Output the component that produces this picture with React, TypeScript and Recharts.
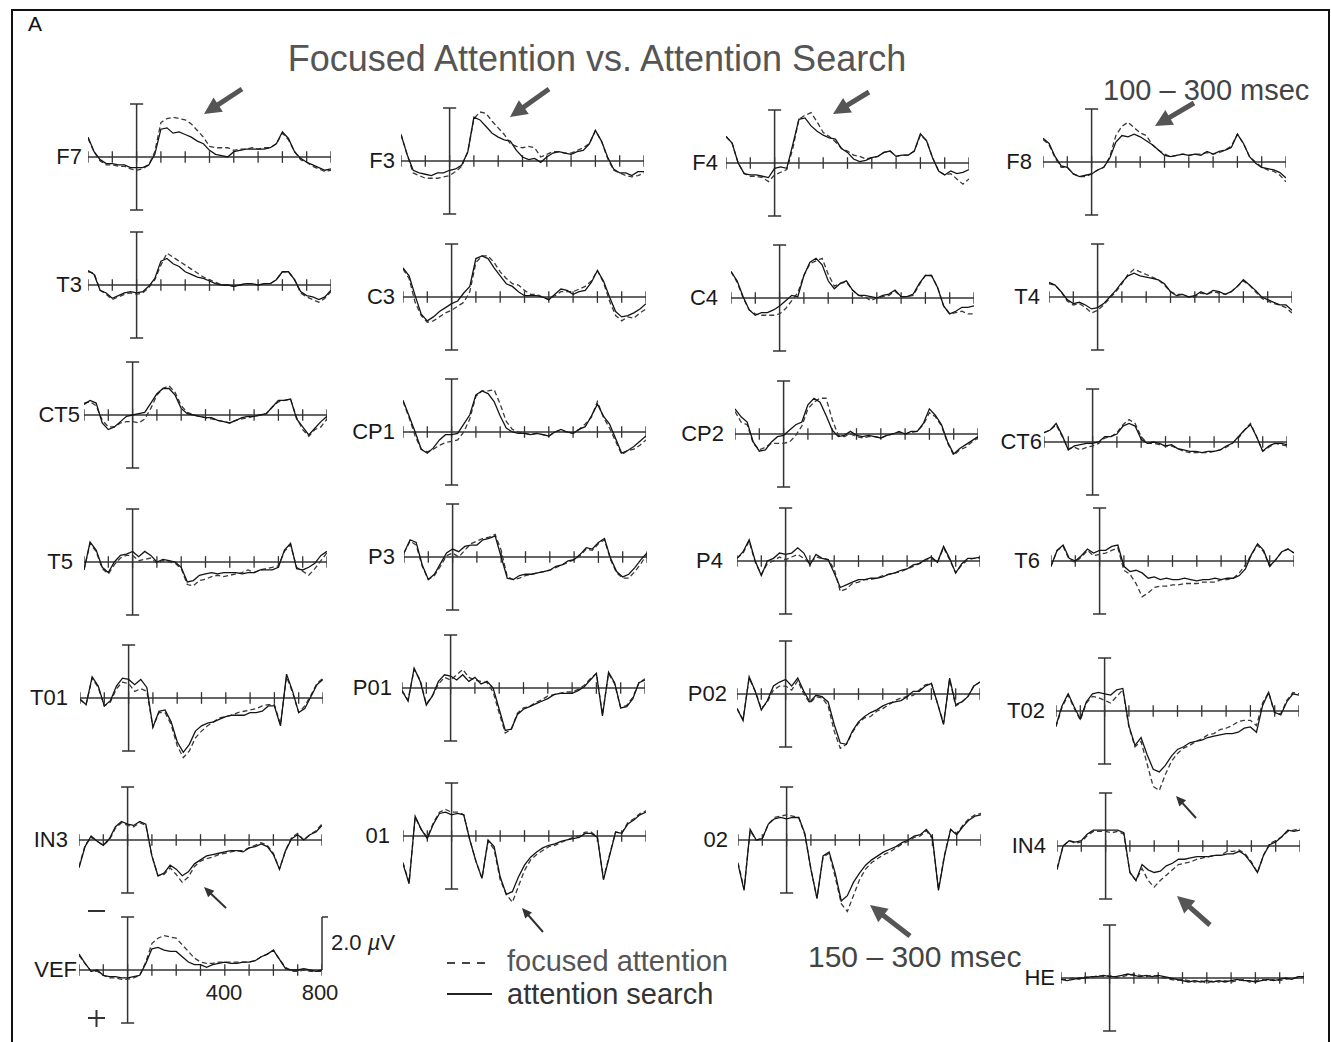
import { LineChart, Line, XAxis, YAxis, ReferenceLine } from "recharts";

// sample times (ms) and amplitudes (µV, negative plotted up)
const timesMs = [-200, -175, -150, -125, -100, -75, -50, -25, 0, 25, 50, 75, 100, 125, 150, 175, 200, 225, 250, 275, 300, 325, 350, 375, 400, 425, 450, 475, 500, 525, 550, 575, 600, 625, 650, 675, 700, 725, 750, 775, 800];
const axisTicks = [-200, -100, 0, 100, 200, 300, 400, 500, 600, 700, 800];

const f7Search = [-0.75, -0.2, 0.1, 0.25, 0.25, 0.3, 0.3, 0.4, 0.4, 0.4, 0.3, -0.1, -1.05, -1.1, -0.9, -0.95, -0.85, -0.75, -0.6, -0.5, -0.25, -0.1, -0.05, 0, -0.2, -0.25, -0.3, -0.3, -0.3, -0.3, -0.35, -0.5, -0.95, -0.7, -0.2, 0.05, 0.2, 0.3, 0.4, 0.5, 0.45];
const f7Focused = [-0.7, -0.2, 0.15, 0.3, 0.3, 0.35, 0.35, 0.45, 0.5, 0.45, 0.3, -0.2, -1.3, -1.45, -1.5, -1.45, -1.4, -1.25, -1.0, -0.75, -0.4, -0.35, -0.35, -0.35, -0.25, -0.3, -0.3, -0.35, -0.3, -0.35, -0.35, -0.5, -0.9, -0.65, -0.2, 0.1, 0.2, 0.35, 0.45, 0.55, 0.5];
const f3Search = [-1.0, -0.25, 0.35, 0.45, 0.5, 0.55, 0.45, 0.45, 0.35, 0.3, 0.15, -0.35, -1.65, -1.55, -1.3, -1.05, -0.9, -0.8, -0.75, -0.4, -0.15, -0.05, -0.1, 0.05, -0.15, -0.3, -0.35, -0.3, -0.25, -0.35, -0.4, -0.65, -1.15, -0.75, -0.15, 0.3, 0.45, 0.45, 0.55, 0.4, 0.4];
const f3Focused = [-1.0, -0.25, 0.45, 0.55, 0.65, 0.65, 0.65, 0.6, 0.55, 0.4, 0.2, -0.35, -1.6, -1.85, -1.8, -1.5, -1.25, -1.0, -0.65, -0.55, -0.5, -0.55, -0.5, -0.15, -0.25, -0.35, -0.35, -0.3, -0.3, -0.4, -0.5, -0.65, -1.15, -0.75, -0.1, 0.35, 0.45, 0.55, 0.6, 0.55, 0.45];
const f4Search = [-1.0, -0.75, 0, 0.4, 0.45, 0.45, 0.5, 0.55, 0.2, 0.15, 0.2, -0.7, -1.65, -1.7, -1.4, -1.2, -1.05, -0.95, -0.9, -0.55, -0.4, -0.15, -0.05, -0.1, -0.2, -0.25, -0.4, -0.45, -0.25, -0.3, -0.3, -0.45, -1.1, -0.85, -0.2, 0.3, 0.45, 0.3, 0.4, 0.35, 0.25];
const f4Focused = [-1.0, -0.75, 0, 0.4, 0.5, 0.5, 0.55, 0.7, 0.45, 0.35, 0.25, -0.55, -1.65, -1.8, -1.9, -1.55, -1.15, -1.0, -0.8, -0.55, -0.45, -0.3, -0.25, -0.15, -0.2, -0.25, -0.4, -0.45, -0.25, -0.3, -0.3, -0.45, -1.05, -0.85, -0.2, 0.3, 0.45, 0.4, 0.6, 0.8, 0.6];
const f8Search = [-0.9, -0.7, -0.2, 0.15, 0.2, 0.45, 0.55, 0.5, 0.45, 0.3, 0.2, -0.15, -0.75, -1.0, -0.95, -1.05, -0.95, -0.8, -0.65, -0.45, -0.25, -0.2, -0.25, -0.3, -0.25, -0.3, -0.25, -0.4, -0.3, -0.4, -0.45, -0.55, -1.05, -0.7, -0.2, 0.05, 0.2, 0.25, 0.3, 0.4, 0.6];
const f8Focused = [-0.85, -0.65, -0.15, 0.2, 0.2, 0.45, 0.55, 0.55, 0.45, 0.3, 0.2, -0.2, -1.0, -1.35, -1.5, -1.3, -1.1, -1.0, -0.65, -0.45, -0.3, -0.2, -0.25, -0.3, -0.25, -0.3, -0.3, -0.35, -0.3, -0.35, -0.45, -0.6, -1.05, -0.7, -0.2, 0.0, 0.2, 0.3, 0.35, 0.5, 0.75];

const t3Search = [-0.55, -0.4, 0.2, 0.3, 0.5, 0.4, 0.3, 0.25, 0.3, 0.25, 0.05, -0.25, -0.9, -1.0, -0.8, -0.7, -0.5, -0.4, -0.3, -0.25, -0.15, -0.05, 0, 0, 0.05, 0, -0.05, -0.05, 0, -0.05, -0.05, -0.2, -0.5, -0.5, -0.2, 0.25, 0.4, 0.45, 0.55, 0.45, 0.2];
const t3Focused = [-0.5, -0.45, 0.2, 0.35, 0.55, 0.45, 0.35, 0.3, 0.35, 0.3, 0.1, -0.2, -0.75, -1.2, -1.05, -0.9, -0.75, -0.6, -0.45, -0.3, -0.2, -0.1, 0, 0, 0.05, 0, -0.05, -0.05, 0, -0.05, -0.05, -0.2, -0.5, -0.5, -0.2, 0.3, 0.45, 0.55, 0.65, 0.5, 0.25];
const c3Search = [-1.1, -0.8, -0.05, 0.65, 0.9, 0.75, 0.55, 0.4, 0.25, 0.15, -0.15, -0.4, -1.45, -1.55, -1.45, -1.1, -0.8, -0.5, -0.4, -0.2, -0.05, -0.05, -0.05, 0, 0.1, -0.1, -0.3, -0.25, -0.1, -0.2, -0.25, -0.55, -1.0, -0.6, 0, 0.55, 0.75, 0.7, 0.6, 0.45, 0.25];
const c3Focused = [-1.05, -0.7, 0.2, 0.7, 0.95, 0.9, 0.75, 0.6, 0.5, 0.35, 0.2, -0.2, -1.3, -1.55, -1.55, -1.3, -0.95, -0.7, -0.5, -0.45, -0.25, -0.1, -0.1, 0, 0.1, -0.05, -0.2, -0.2, -0.2, -0.3, -0.4, -0.6, -1.0, -0.55, 0.15, 0.7, 0.9, 0.75, 0.8, 0.6, 0.45];
const c4Search = [-1.0, -0.65, -0.05, 0.45, 0.65, 0.55, 0.55, 0.45, 0.3, 0.1, -0.1, -0.05, -0.85, -1.35, -1.5, -1.25, -0.65, -0.35, -0.55, -0.65, -0.3, -0.1, -0.1, -0.05, 0, -0.1, -0.15, -0.3, -0.05, -0.05, -0.15, -0.55, -0.85, -0.85, -0.4, 0.3, 0.6, 0.5, 0.35, 0.35, 0.3];
const c4Focused = [-1.0, -0.6, 0.0, 0.45, 0.6, 0.65, 0.65, 0.65, 0.6, 0.4, 0.1, -0.2, -0.85, -1.3, -1.4, -1.5, -0.9, -0.45, -0.55, -0.6, -0.3, -0.1, -0.05, 0.1, 0, -0.05, -0.1, -0.25, -0.05, -0.05, -0.1, -0.5, -0.85, -0.85, -0.4, 0.3, 0.6, 0.55, 0.5, 0.6, 0.6];
const t4Search = [-0.55, -0.45, -0.2, 0.1, 0.25, 0.2, 0.3, 0.45, 0.4, 0.25, 0, -0.25, -0.55, -0.8, -0.9, -0.8, -0.75, -0.7, -0.65, -0.5, -0.2, -0.05, -0.1, 0, -0.05, -0.2, -0.1, -0.25, -0.2, -0.1, -0.2, -0.4, -0.65, -0.45, -0.25, 0, 0.1, 0.2, 0.3, 0.3, 0.5];
const t4Focused = [-0.5, -0.45, -0.2, 0.15, 0.3, 0.25, 0.4, 0.6, 0.5, 0.3, 0.05, -0.2, -0.5, -0.85, -1.05, -0.95, -0.85, -0.75, -0.65, -0.45, -0.2, -0.1, -0.1, 0, 0, -0.15, -0.1, -0.2, -0.15, -0.1, -0.2, -0.4, -0.6, -0.45, -0.2, 0.05, 0.15, 0.25, 0.3, 0.4, 0.6];

const ct5Search = [-0.4, -0.55, -0.45, 0.3, 0.55, 0.45, 0.25, 0.05, 0, -0.05, -0.1, -0.45, -0.8, -1.0, -1.0, -0.75, -0.25, -0.05, 0, 0.05, 0.1, 0.1, 0.2, 0.25, 0.3, 0.2, 0.1, 0.05, 0.05, 0, -0.05, -0.3, -0.55, -0.55, -0.6, 0.15, 0.45, 0.75, 0.5, 0.25, 0.05];
const ct5Focused = [-0.45, -0.5, -0.35, 0.2, 0.45, 0.45, 0.3, 0.25, 0.25, 0.3, 0.15, -0.25, -0.75, -1.0, -1.1, -0.85, -0.35, -0.1, 0, 0.05, 0.1, 0.15, 0.2, 0.25, 0.3, 0.2, 0.15, 0.1, 0.05, 0, -0.05, -0.3, -0.5, -0.55, -0.6, 0.1, 0.55, 0.8, 0.55, 0.45, 0.15];
const cp1Search = [-1.2, -0.6, 0, 0.65, 0.8, 0.6, 0.3, 0.1, 0.1, 0.05, -0.3, -0.65, -1.4, -1.55, -1.45, -1.15, -0.6, -0.15, 0, 0.05, 0.05, 0.1, 0.05, 0.1, 0.15, 0, -0.1, 0, 0.05, -0.1, -0.2, -0.6, -1.05, -0.6, -0.3, 0.25, 0.8, 0.7, 0.55, 0.35, 0.15];
const cp1Focused = [-1.15, -0.55, 0.15, 0.65, 0.75, 0.65, 0.5, 0.4, 0.35, 0.3, 0, -0.5, -1.35, -1.55, -1.55, -1.6, -1.05, -0.4, -0.1, 0, 0.05, 0.1, 0.05, 0.1, 0.15, 0, -0.05, 0, 0.05, -0.1, -0.3, -0.55, -1.15, -0.55, -0.15, 0.35, 0.85, 0.7, 0.65, 0.5, 0.3];
const cp2Search = [-0.95, -0.65, -0.45, 0.3, 0.65, 0.6, 0.3, 0.1, 0.05, -0.15, -0.35, -0.45, -1.1, -1.35, -1.2, -0.7, -0.15, 0.1, 0.05, -0.1, 0.05, 0.1, 0.05, 0.1, 0.15, 0.05, 0, -0.1, 0, -0.1, -0.1, -0.4, -0.95, -0.7, -0.35, 0.3, 0.75, 0.55, 0.4, 0.25, 0.1];
const cp2Focused = [-0.85, -0.45, -0.35, 0.35, 0.6, 0.5, 0.35, 0.35, 0.35, 0.3, 0.05, -0.3, -0.95, -1.2, -1.35, -1.35, -0.55, 0.05, 0.1, 0, 0.1, 0.15, 0.1, 0.1, 0.15, 0.05, 0, -0.05, 0, -0.05, -0.1, -0.35, -0.8, -0.65, -0.3, 0.35, 0.8, 0.6, 0.5, 0.3, 0.15];
const ct6Search = [-0.35, -0.45, -0.7, -0.25, 0.3, 0.15, 0.1, 0.05, 0.05, 0, -0.2, -0.2, -0.3, -0.6, -0.7, -0.6, -0.1, 0.05, 0, 0.05, 0.15, 0.1, 0.25, 0.3, 0.35, 0.35, 0.4, 0.35, 0.35, 0.3, 0.15, 0.05, -0.2, -0.45, -0.65, -0.2, 0.35, 0.15, 0.05, 0.05, 0.1];
const ct6Focused = [-0.35, -0.45, -0.65, -0.2, 0.25, 0.2, 0.3, 0.2, 0.15, 0.05, -0.15, -0.2, -0.35, -0.65, -0.85, -0.7, -0.2, 0.05, 0.05, 0.1, 0.15, 0.15, 0.25, 0.35, 0.4, 0.4, 0.4, 0.4, 0.35, 0.3, 0.2, 0.05, -0.15, -0.45, -0.7, -0.2, 0.35, 0.2, 0.05, 0.1, 0.15];

const t5Search = [0.3, -0.75, -0.45, 0.2, 0.4, 0, -0.25, -0.3, -0.4, -0.2, -0.4, -0.25, 0, -0.1, -0.05, 0, 0.2, 0.75, 0.7, 0.5, 0.45, 0.4, 0.45, 0.4, 0.4, 0.4, 0.45, 0.4, 0.4, 0.3, 0.3, 0.3, 0.2, -0.45, -0.7, 0.25, 0.3, 0.2, 0.05, -0.25, -0.4];
const t5Focused = [0.3, -0.7, -0.4, 0.25, 0.45, 0.1, -0.15, -0.25, -0.25, -0.05, -0.1, -0.15, 0.05, -0.05, 0, 0.05, 0.25, 0.85, 0.9, 0.7, 0.65, 0.55, 0.5, 0.55, 0.5, 0.45, 0.4, 0.3, 0.4, 0.3, 0.25, 0.2, 0.15, -0.4, -0.65, 0.2, 0.35, 0.5, 0.25, -0.05, -0.35];
const p3Search = [-0.15, -0.65, -0.55, 0.3, 0.85, 0.65, 0.25, -0.15, -0.3, -0.2, -0.4, -0.45, -0.45, -0.65, -0.7, -0.8, 0, 0.8, 0.85, 0.7, 0.65, 0.65, 0.6, 0.55, 0.5, 0.35, 0.3, 0.15, 0.1, -0.1, -0.35, -0.3, -0.55, -0.7, 0.05, 0.55, 0.75, 0.65, 0.4, 0.1, -0.15];
const p3Focused = [-0.15, -0.6, -0.45, 0.35, 0.85, 0.7, 0.35, -0.05, -0.15, 0, -0.25, -0.5, -0.6, -0.7, -0.75, -0.85, -0.25, 0.75, 0.85, 0.8, 0.7, 0.65, 0.6, 0.55, 0.5, 0.4, 0.3, 0.2, 0.1, -0.05, -0.3, -0.25, -0.5, -0.65, 0.1, 0.6, 0.8, 0.8, 0.55, 0.25, -0.1];
const p4Search = [-0.1, -0.35, -0.8, 0, 0.55, 0, -0.1, -0.3, -0.25, -0.3, -0.5, -0.3, 0.15, -0.25, -0.1, -0.05, 0.45, 1.0, 0.9, 0.8, 0.7, 0.7, 0.65, 0.65, 0.6, 0.5, 0.45, 0.35, 0.3, 0.15, 0.1, -0.05, -0.15, 0.05, -0.55, -0.1, 0.45, 0.1, -0.1, -0.1, -0.15];
const p4Focused = [-0.1, -0.3, -0.75, 0.05, 0.5, 0.1, 0, -0.15, -0.05, -0.15, -0.25, -0.1, 0.1, -0.15, -0.1, -0.05, 0.3, 1.15, 1.05, 0.85, 0.8, 0.7, 0.7, 0.65, 0.55, 0.5, 0.45, 0.4, 0.3, 0.2, 0.1, 0, -0.1, 0.05, -0.5, -0.05, 0.45, 0.15, -0.05, -0.1, -0.1];
const t6Search = [0.2, -0.4, -0.6, -0.1, 0, -0.2, -0.45, -0.3, -0.4, -0.4, -0.55, -0.6, 0.2, 0.4, 0.35, 0.45, 0.65, 0.6, 0.7, 0.65, 0.7, 0.7, 0.65, 0.7, 0.75, 0.7, 0.7, 0.65, 0.7, 0.65, 0.65, 0.55, 0.3, -0.25, -0.65, -0.4, 0.2, -0.05, -0.35, -0.45, -0.3];
const t6Focused = [0.2, -0.4, -0.55, -0.05, 0.05, -0.15, -0.4, -0.2, -0.25, -0.3, -0.4, -0.5, 0.35, 0.5, 0.85, 1.35, 1.2, 1.0, 0.95, 0.95, 0.9, 0.9, 0.85, 0.85, 0.85, 0.8, 0.8, 0.8, 0.7, 0.7, 0.65, 0.45, 0.15, -0.25, -0.6, -0.35, 0.2, -0.05, -0.35, -0.45, -0.3];

const t01Search = [0.05, 0.25, -0.8, -0.45, 0.3, 0.1, -0.45, -0.75, -0.7, -0.5, -0.7, -0.4, 1.1, 0.5, 0.45, 0.9, 1.65, 2.05, 1.75, 1.25, 1.05, 0.95, 0.9, 0.8, 0.7, 0.65, 0.65, 0.65, 0.55, 0.55, 0.5, 0.3, 0.3, 1.05, -0.9, -0.25, 0.55, 0.4, -0.05, -0.5, -0.7];
const t01Focused = [0.05, 0.25, -0.75, -0.4, 0.3, 0.15, -0.35, -0.6, -0.55, -0.25, -0.35, -0.25, 1.1, 0.55, 0.55, 1.0, 1.8, 2.25, 2.0, 1.5, 1.25, 1.05, 0.9, 0.75, 0.7, 0.65, 0.55, 0.5, 0.45, 0.4, 0.3, 0.25, 0.25, 1.0, -0.8, -0.2, 0.55, 0.3, -0.1, -0.55, -0.75];
const p01Search = [0.1, 0.5, -0.75, -0.25, 0.65, 0.3, -0.25, -0.5, -0.45, -0.3, -0.5, -0.25, -0.4, -0.15, -0.25, 0, 0.8, 1.6, 1.55, 1.0, 0.8, 0.7, 0.6, 0.5, 0.4, 0.25, 0.2, 0.2, 0.2, 0.1, -0.05, -0.3, -0.55, 1.05, -0.6, -0.2, 0.75, 0.7, 0.4, -0.2, -0.3];
const p01Focused = [0.1, 0.45, -0.7, -0.3, 0.6, 0.3, -0.15, -0.4, -0.3, -0.5, -0.7, -0.4, -0.3, -0.25, -0.2, 0.15, 0.95, 1.7, 1.55, 0.95, 0.75, 0.7, 0.55, 0.45, 0.3, 0.25, 0.2, 0.15, 0.15, 0.05, -0.1, -0.35, -0.55, 1.0, -0.55, -0.15, 0.75, 0.65, 0.35, -0.2, -0.35];
const p02Search = [0.55, 1.0, -0.65, -0.1, 0.6, 0.25, -0.3, -0.45, -0.55, -0.3, -0.6, -0.1, 0.3, 0.05, 0.1, 0.3, 1.15, 1.85, 1.9, 1.4, 1.05, 0.85, 0.7, 0.6, 0.45, 0.35, 0.3, 0.25, 0.1, -0.1, -0.1, -0.3, -0.4, 0.35, 1.15, -0.6, 0.4, 0.3, 0.1, -0.3, -0.45];
const p02Focused = [0.55, 0.95, -0.6, -0.1, 0.55, 0.3, -0.15, -0.3, -0.3, -0.15, -0.5, 0, 0.35, 0.1, 0.15, 0.45, 1.4, 2.05, 1.9, 1.45, 1.1, 0.9, 0.85, 0.65, 0.55, 0.4, 0.25, 0.15, 0.1, 0.05, -0.15, -0.35, -0.4, 0.35, 1.1, -0.55, 0.45, 0.3, 0.1, -0.3, -0.45];
const t02Search = [0.55, -0.2, -0.65, -0.15, 0.3, -0.35, -0.65, -0.7, -0.65, -0.6, -0.8, -0.85, 0.55, 1.3, 1.0, 1.65, 2.2, 2.3, 2.05, 1.7, 1.45, 1.35, 1.2, 1.15, 1.1, 1.0, 0.95, 0.9, 0.85, 0.85, 0.8, 0.65, 0.6, 0.8, -0.2, -0.7, 0.05, 0.15, -0.35, -0.65, -0.6];
const t02Focused = [0.6, -0.15, -0.6, -0.1, 0.35, -0.3, -0.55, -0.5, -0.4, -0.3, -0.55, -0.8, 0.6, 1.35, 1.15, 2.0, 2.85, 3.0, 2.4, 1.9, 1.6, 1.4, 1.3, 1.15, 1.05, 0.9, 0.85, 0.7, 0.65, 0.55, 0.4, 0.35, 0.35, 0.55, -0.3, -0.7, 0.1, 0.1, -0.4, -0.7, -0.65];

const in3Search = [1.05, 0.25, -0.15, 0.05, 0.2, -0.05, -0.5, -0.7, -0.6, -0.55, -0.7, -0.6, 0.6, 1.35, 1.25, 0.95, 1.1, 1.35, 1.2, 0.9, 0.75, 0.6, 0.55, 0.5, 0.45, 0.4, 0.4, 0.45, 0.3, 0.25, 0.15, 0.25, 0.55, 1.1, 0.4, -0.05, -0.2, 0, -0.2, -0.3, -0.55];
const in3Focused = [1.0, 0.2, -0.1, 0.05, 0.2, 0, -0.45, -0.65, -0.55, -0.5, -0.65, -0.55, 0.6, 1.35, 1.3, 1.05, 1.3, 1.6, 1.4, 1.0, 0.8, 0.7, 0.65, 0.55, 0.5, 0.45, 0.4, 0.4, 0.3, 0.2, 0.1, 0.2, 0.5, 1.1, 0.4, -0.1, -0.25, 0, -0.2, -0.35, -0.6];
const o1Search = [1.05, 1.8, -0.75, -0.25, 0.1, -0.45, -0.85, -0.9, -0.8, -0.85, -0.8, 0.15, 0.95, 1.6, 0.15, 0.4, 1.55, 2.2, 2.1, 1.55, 1.1, 0.8, 0.6, 0.45, 0.35, 0.3, 0.2, 0.15, 0.1, 0.05, -0.1, -0.1, 0.05, 1.65, 0.75, -0.15, -0.1, -0.45, -0.6, -0.8, -0.9];
const o1Focused = [1.0, 1.75, -0.7, -0.25, 0.05, -0.5, -0.9, -1.0, -0.9, -0.9, -0.8, 0.15, 0.95, 1.6, 0.2, 0.5, 1.65, 2.2, 2.5, 1.9, 1.3, 0.9, 0.7, 0.55, 0.4, 0.35, 0.25, 0.15, 0.05, 0, -0.15, -0.15, 0.05, 1.6, 0.7, -0.15, -0.1, -0.5, -0.65, -0.85, -0.95];
const o2Search = [0.9, 1.9, -0.4, 0, -0.05, -0.6, -0.8, -0.85, -0.8, -0.85, -0.85, -0.25, 1.1, 2.2, 0.6, 0.45, 1.25, 2.3, 2.1, 1.6, 1.25, 0.95, 0.75, 0.6, 0.45, 0.35, 0.25, 0.1, 0, -0.15, -0.2, -0.4, -0.1, 1.9, 0.6, -0.4, -0.2, -0.5, -0.75, -0.9, -0.95];
const o2Focused = [0.85, 1.85, -0.35, 0, -0.05, -0.6, -0.85, -0.9, -0.95, -0.9, -0.85, -0.2, 1.1, 2.2, 0.65, 0.5, 1.4, 2.4, 2.7, 2.1, 1.5, 1.1, 0.85, 0.7, 0.55, 0.45, 0.3, 0.15, 0.05, -0.1, -0.15, -0.35, -0.05, 1.85, 0.55, -0.4, -0.25, -0.55, -0.8, -0.95, -1.0];
const in4Search = [0.9, 0, -0.2, -0.15, -0.2, -0.45, -0.6, -0.6, -0.6, -0.6, -0.6, -0.5, 1.0, 1.3, 0.7, 0.9, 1.0, 0.95, 0.75, 0.65, 0.5, 0.5, 0.45, 0.4, 0.4, 0.4, 0.35, 0.35, 0.3, 0.3, 0.2, 0.35, 0.65, 1.0, 0.35, -0.05, -0.15, -0.35, -0.6, -0.55, -0.6];
const in4Focused = [0.85, 0, -0.2, -0.1, -0.15, -0.4, -0.55, -0.55, -0.55, -0.5, -0.55, -0.45, 1.0, 1.3, 0.85, 1.3, 1.55, 1.3, 1.1, 0.9, 0.7, 0.65, 0.6, 0.5, 0.45, 0.4, 0.35, 0.35, 0.2, 0.2, 0.15, 0.3, 0.6, 1.0, 0.35, -0.1, -0.2, -0.35, -0.55, -0.6, -0.65];

const vefSearch = [-0.6, -0.25, 0.05, 0, 0.2, 0.25, 0.25, 0.3, 0.3, 0.25, 0.2, -0.25, -0.8, -0.85, -0.75, -0.7, -0.7, -0.5, -0.3, -0.2, -0.2, -0.1, -0.2, -0.25, -0.3, -0.25, -0.25, -0.3, -0.3, -0.35, -0.5, -0.6, -0.75, -0.4, -0.05, 0, 0, -0.05, 0, 0.05, 0];
const vefFocused = [-0.55, -0.25, 0.05, 0.05, 0.2, 0.3, 0.3, 0.35, 0.35, 0.3, 0.2, -0.3, -1.0, -1.2, -1.3, -1.25, -1.2, -0.95, -0.7, -0.45, -0.3, -0.25, -0.25, -0.3, -0.3, -0.3, -0.3, -0.3, -0.3, -0.35, -0.5, -0.6, -0.75, -0.4, -0.1, 0.05, 0.05, 0, 0.05, 0.05, 0.05];
const heSearch = [0.05, 0.1, 0.05, 0, 0, -0.05, -0.05, -0.1, -0.05, -0.05, -0.1, -0.15, -0.1, -0.05, -0.1, -0.05, -0.1, -0.05, 0, 0.05, 0.1, 0.15, 0.1, 0.15, 0.1, 0.15, 0.1, 0.15, 0.1, 0.05, 0.1, 0.1, 0.15, 0.1, 0.05, 0.1, 0.05, 0, 0.05, -0.05, -0.05];
const heFocused = [0.05, 0.05, 0, 0.05, -0.05, 0, -0.1, -0.05, -0.1, 0, -0.05, -0.1, -0.15, -0.1, -0.05, -0.1, -0.05, 0, 0.05, 0.1, 0.05, 0.1, 0.15, 0.1, 0.2, 0.1, 0.15, 0.1, 0.15, 0.1, 0.05, 0.15, 0.1, 0.05, 0.1, 0.05, 0.1, 0.05, 0, 0, -0.05];

// layout: left = x of the -200 ms end of the axis, base = y of the 0 µV line
const panels = [
  { name: "F7", search: f7Search, focused: f7Focused, left: 88, base: 157, gap: 6 },
  { name: "F3", search: f3Search, focused: f3Focused, left: 401, base: 161, gap: 6 },
  { name: "F4", search: f4Search, focused: f4Focused, left: 726, base: 163, gap: 8 },
  { name: "F8", search: f8Search, focused: f8Focused, left: 1043, base: 162, gap: 11 },
  { name: "T3", search: t3Search, focused: t3Focused, left: 88, base: 285, gap: 6 },
  { name: "C3", search: c3Search, focused: c3Focused, left: 403, base: 297, gap: 8 },
  { name: "C4", search: c4Search, focused: c4Focused, left: 731, base: 298, gap: 13 },
  { name: "T4", search: t4Search, focused: t4Focused, left: 1049, base: 297, gap: 9 },
  { name: "CT5", search: ct5Search, focused: ct5Focused, left: 84, base: 415, gap: 4 },
  { name: "CP1", search: cp1Search, focused: cp1Focused, left: 403, base: 432, gap: 8 },
  { name: "CP2", search: cp2Search, focused: cp2Focused, left: 735, base: 434, gap: 11 },
  { name: "CT6", search: ct6Search, focused: ct6Focused, left: 1044, base: 442, gap: 2 },
  { name: "T5", search: t5Search, focused: t5Focused, left: 84, base: 562, gap: 11 },
  { name: "P3", search: p3Search, focused: p3Focused, left: 404, base: 557, gap: 9 },
  { name: "P4", search: p4Search, focused: p4Focused, left: 737, base: 561, gap: 14 },
  { name: "T6", search: t6Search, focused: t6Focused, left: 1051, base: 561, gap: 11 },
  { name: "T01", search: t01Search, focused: t01Focused, left: 80, base: 698, gap: 12 },
  { name: "P01", search: p01Search, focused: p01Focused, left: 402, base: 688, gap: 10 },
  { name: "P02", search: p02Search, focused: p02Focused, left: 737, base: 694, gap: 10 },
  { name: "T02", search: t02Search, focused: t02Focused, left: 1056, base: 711, gap: 11 },
  { name: "IN3", search: in3Search, focused: in3Focused, left: 79, base: 840, gap: 11 },
  { name: "01", search: o1Search, focused: o1Focused, left: 403, base: 836, gap: 13 },
  { name: "02", search: o2Search, focused: o2Focused, left: 738, base: 840, gap: 10 },
  { name: "IN4", search: in4Search, focused: in4Focused, left: 1057, base: 846, gap: 11 },
  { name: "VEF", search: vefSearch, focused: vefFocused, left: 79, base: 970, gap: 2 },
  { name: "HE", search: heSearch, focused: heFocused, left: 1061, base: 978, gap: 6 },
];

const W = 243; // 1000 ms
const H = 212; // 8 µV at 26.5 px/µV
const FONT = '"Liberation Sans", Arial, Helvetica, sans-serif';
const AXIS = "#333";

function Panel({ p }: { p: any }) {
  const rows = timesMs.map((t, i) => ({ t, search: p.search[i], focused: p.focused[i] }));
  return (
    <>
      <div
        style={{
          position: "absolute",
          left: p.left - p.gap - 100,
          top: p.base - 13,
          width: 100,
          lineHeight: "26px",
          textAlign: "right",
          fontSize: 22,
          color: "#1a1a1a",
          fontFamily: FONT,
        }}
      >
        {p.name}
      </div>
      <div style={{ position: "absolute", left: p.left, top: p.base - H / 2 }}>
        <LineChart width={W} height={H} data={rows} margin={{ top: 0, right: 0, bottom: 0, left: 0 }}>
          <XAxis type="number" dataKey="t" domain={[-200, 800]} hide />
          <YAxis type="number" domain={[-4, 4]} reversed hide />
          <ReferenceLine y={0} stroke={AXIS} strokeWidth={1.5} />
          {axisTicks.map((t) => (
            <ReferenceLine key={t} segment={[{ x: t, y: -0.22 }, { x: t, y: 0.22 }]} stroke={AXIS} strokeWidth={1.3} />
          ))}
          <ReferenceLine segment={[{ x: 0, y: -2 }, { x: 0, y: 2 }]} stroke={AXIS} strokeWidth={1.5} />
          <ReferenceLine segment={[{ x: -27, y: -2 }, { x: 27, y: -2 }]} stroke={AXIS} strokeWidth={1.5} />
          <ReferenceLine segment={[{ x: -27, y: 2 }, { x: 27, y: 2 }]} stroke={AXIS} strokeWidth={1.5} />
          <Line
            type="linear"
            dataKey="focused"
            stroke="#3a3a3a"
            strokeWidth={1.3}
            strokeDasharray="5 3"
            dot={false}
            isAnimationActive={false}
          />
          <Line type="linear" dataKey="search" stroke="#151515" strokeWidth={1.3} dot={false} isAnimationActive={false} />
        </LineChart>
      </div>
    </>
  );
}

function arrow(x1: number, y1: number, x2: number, y2: number, sw: number, hl: number, hw: number) {
  const dx = x2 - x1;
  const dy = y2 - y1;
  const L = Math.hypot(dx, dy);
  const ux = dx / L;
  const uy = dy / L;
  const px = -uy;
  const py = ux;
  const bx = x2 - ux * hl;
  const by = y2 - uy * hl;
  const pts = [
    [x1 + (px * sw) / 2, y1 + (py * sw) / 2],
    [bx + (px * sw) / 2, by + (py * sw) / 2],
    [bx + (px * hw) / 2, by + (py * hw) / 2],
    [x2, y2],
    [bx - (px * hw) / 2, by - (py * hw) / 2],
    [bx - (px * sw) / 2, by - (py * sw) / 2],
    [x1 - (px * sw) / 2, y1 - (py * sw) / 2],
  ];
  return pts.map((q) => q.join(",")).join(" ");
}

const bigArrows = [
  [242, 89, 204, 114],
  [549, 89, 510, 117],
  [869, 92, 833, 114],
  [1194, 103, 1155, 126],
  [910, 936, 870, 905],
  [1210, 925, 1177, 896],
];
const thinArrows = [
  [1196, 818, 1176, 796],
  [226, 908, 204, 887],
  [543, 932, 522, 908],
];

export default function App() {
  return (
    <div
      style={{
        position: "fixed",
        left: 0,
        top: 0,
        width: 1331,
        height: 1042,
        overflow: "hidden",
        background: "#fff",
        fontFamily: FONT,
      }}
    >
      {panels.map((p) => (
        <Panel key={p.name} p={p} />
      ))}
      <svg
        width={1331}
        height={1042}
        style={{ position: "absolute", left: 0, top: 0, pointerEvents: "none" }}
        fontFamily={FONT}
      >
        <path d="M12,1050 V10 H1329 V1050" fill="none" stroke="#111" strokeWidth={2} />
        <text x={28} y={31} fontSize={21} fill="#111">A</text>
        <text x={597} y={71} fontSize={36} fill="#555" textAnchor="middle">
          Focused Attention vs. Attention Search
        </text>
        <text x={1103} y={100} fontSize={29} fill="#444">100 – 300 msec</text>
        <text x={808} y={967} fontSize={30} fill="#444">150 – 300 msec</text>
        {bigArrows.map((a, i) => (
          <polygon key={"b" + i} points={arrow(a[0], a[1], a[2], a[3], 5, 17, 17)} fill="#555" />
        ))}
        {thinArrows.map((a, i) => (
          <polygon key={"t" + i} points={arrow(a[0], a[1], a[2], a[3], 2, 10, 9)} fill="#333" />
        ))}
        {/* polarity signs and calibration bar */}
        <line x1={88} y1={911} x2={105} y2={911} stroke="#333" strokeWidth={2} />
        <line x1={88} y1={1018} x2={105} y2={1018} stroke="#333" strokeWidth={2} />
        <line x1={96.5} y1={1010} x2={96.5} y2={1027} stroke="#333" strokeWidth={2} />
        <line x1={322} y1={917} x2={322} y2={970} stroke="#333" strokeWidth={1.5} />
        <line x1={322} y1={917} x2={328} y2={917} stroke="#333" strokeWidth={1.5} />
        <text x={331} y={950} fontSize={22} fill="#222">
          2.0 <tspan fontStyle="italic">µ</tspan>V
        </text>
        <text x={224} y={1000} fontSize={22} fill="#222" textAnchor="middle">400</text>
        <text x={320} y={1000} fontSize={22} fill="#222" textAnchor="middle">800</text>
        {/* legend */}
        <line x1={447} y1={963} x2={492} y2={963} stroke="#444" strokeWidth={2} strokeDasharray="8 7" />
        <text x={507} y={971} fontSize={29} fill="#555">focused attention</text>
        <line x1={447} y1={994} x2={492} y2={994} stroke="#222" strokeWidth={2} />
        <text x={507} y={1004} fontSize={29} fill="#333">attention search</text>
      </svg>
    </div>
  );
}
